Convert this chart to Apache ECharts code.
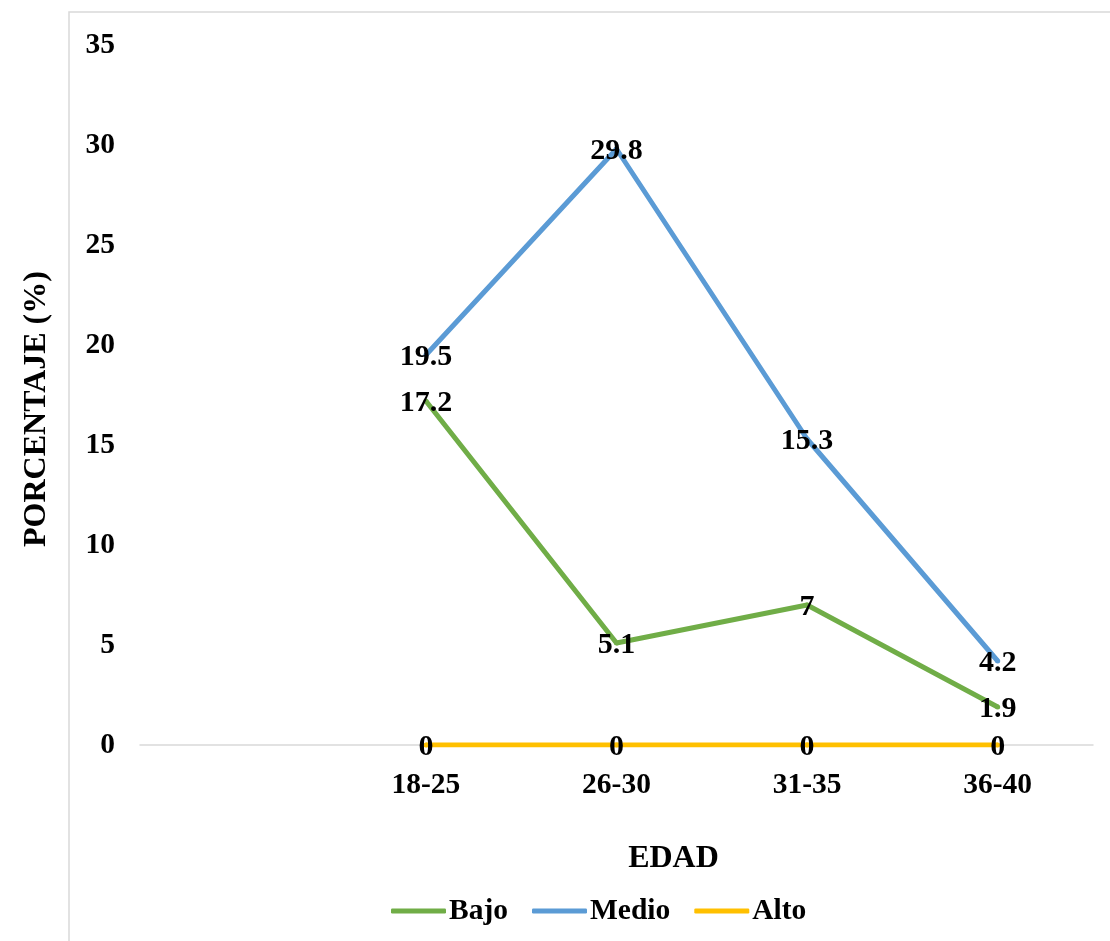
<!DOCTYPE html>
<html>
<head>
<meta charset="utf-8">
<script src="https://cdn.jsdelivr.net/npm/echarts@6/dist/echarts.min.js"></script>
<style>
  html, body { margin: 0; padding: 0; background: #fff; }
  #chart { width: 1110px; height: 941px; }
</style>
</head>
<body>
<div id="chart"></div>
<script>
// Age groups (first slot is left empty on the axis)
const categories = ['', '18-25', '26-30', '31-35', '36-40'];
const bajo  = [null, 17.2, 5.1, 7, 1.9];
const medio = [null, 19.5, 29.8, 15.3, 4.2];
const alto  = [null, 0, 0, 0, 0];
const yTicks = { min: 0, max: 35, interval: 5 };

const FONT = '"Liberation Serif", "Times New Roman", serif';
const textStyle = { fontFamily: FONT, fontWeight: 'bold', color: '#000', fontSize: 29.5 };
const nameStyle = { fontFamily: FONT, fontWeight: 'bold', color: '#000', fontSize: 32 };

function lineSeries(name, data, color) {
  return {
    name: name,
    type: 'line',
    data: data,
    symbol: 'circle',
    symbolSize: 5,
    itemStyle: { color: color },
    lineStyle: { color: color, width: 5 },
    label: {
      show: true,
      position: 'inside',
      offset: [0, 2],
      fontFamily: FONT,
      fontWeight: 'bold',
      fontSize: 30,
      color: '#000'
    },
    emphasis: { disabled: true },
    animation: false
  };
}

const chart = echarts.init(document.getElementById('chart'), null, { renderer: 'canvas' });
chart.setOption({
  backgroundColor: '#fff',
  animation: false,
  graphic: [{
    type: 'rect',
    shape: { x: 69, y: 12, width: 1200, height: 1000 },
    style: { fill: 'none', stroke: '#d9d9d9', lineWidth: 1.5 },
    silent: true,
    z: -1
  }],
  grid: { left: 140, right: 17, top: 45, bottom: 196, containLabel: false },
  xAxis: {
    type: 'category',
    data: categories,
    boundaryGap: true,
    axisLine: { show: true, lineStyle: { color: '#d9d9d9', width: 1.5 } },
    axisTick: { show: false },
    axisLabel: Object.assign({ margin: 25, interval: 0 }, textStyle),
    splitLine: { show: false },
    name: 'EDAD',
    nameLocation: 'middle',
    nameGap: 98,
    nameTextStyle: Object.assign({ padding: [0, 0, 0, 114] }, nameStyle)
  },
  yAxis: {
    type: 'value',
    min: yTicks.min,
    max: yTicks.max,
    interval: yTicks.interval,
    axisLine: { show: false },
    axisTick: { show: false },
    splitLine: { show: false },
    axisLabel: Object.assign({ margin: 25 }, textStyle),
    name: 'PORCENTAJE (%)',
    nameLocation: 'middle',
    nameGap: 87,
    nameRotate: 90,
    nameTextStyle: Object.assign({ padding: [0, 28, 0, 0] }, nameStyle)
  },
  legend: {
    left: 386,
    top: 891,
    itemWidth: 55,
    itemHeight: 5,
    itemGap: 24,
    icon: 'roundRect',
    textStyle: Object.assign({ padding: [0, 0, 0, -2] }, textStyle),
    data: ['Bajo', 'Medio', 'Alto'],
    selectedMode: false
  },
  series: [
    lineSeries('Bajo', bajo, '#70AD47'),
    lineSeries('Medio', medio, '#5B9BD5'),
    lineSeries('Alto', alto, '#FFC000')
  ]
});
</script>
</body>
</html>
